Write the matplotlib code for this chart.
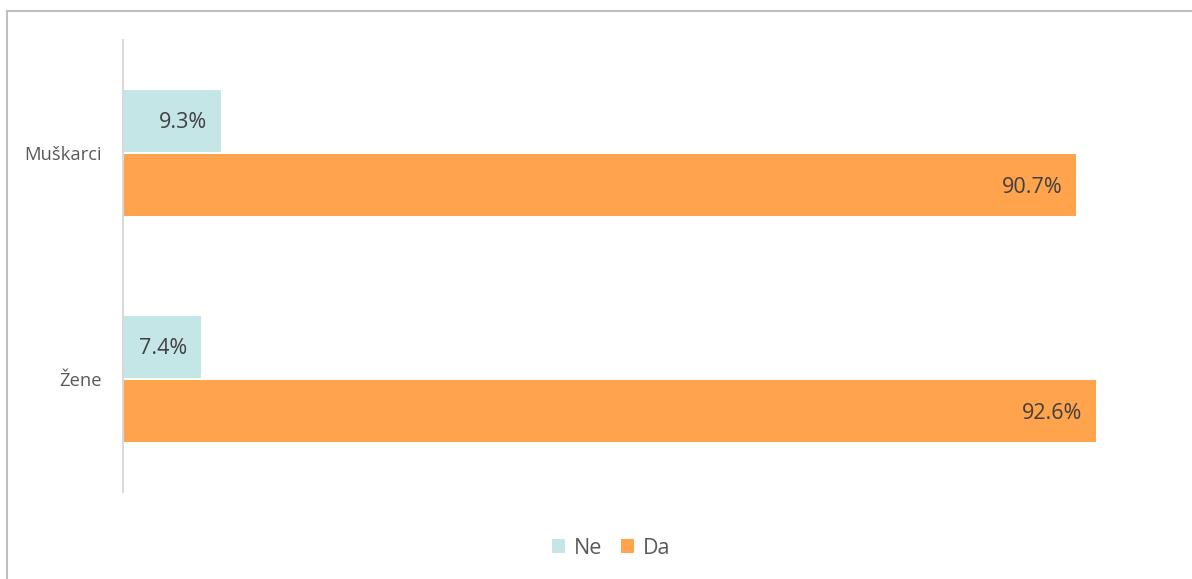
import matplotlib
matplotlib.use("Agg")
import matplotlib.pyplot as plt
from matplotlib.lines import Line2D
from matplotlib.patches import Patch
import numpy as np

plt.rcParams['font.family'] = ['Open Sans', 'DejaVu Sans']

categories = ["Muškarci", "Žene"]
series_names = ["Ne", "Da"]
ne_values = [9.3, 7.4]
da_values = [90.7, 92.6]
colors = {"Ne": "#c5e6e7", "Da": "#ffa34d"}

W, H = 1192, 579
fig = plt.figure(figsize=(W / 100, H / 100), dpi=100)
ax = fig.add_axes([123 / W, 1 - 492 / H, (1174 - 123) / W, (492 - 40) / H])

y = np.arange(len(categories))
bh = 0.274
gap = 0.006
b1 = ax.barh(y - bh / 2 - gap, ne_values, height=bh, color=colors["Ne"], label="Ne")
b2 = ax.barh(y + bh / 2 + gap, da_values, height=bh, color=colors["Da"], label="Da")

for bars, vals in ((b1, ne_values), (b2, da_values)):
    for bar, v in zip(bars, vals):
        ax.annotate(f"{v:.1f}%", xy=(bar.get_width(), bar.get_y() + bar.get_height() / 2),
                    xytext=(-14, -2), textcoords="offset pixels",
                    ha="right", va="center", fontsize=15.5, color="#404040")

ax.set_xlim(0, 100)
ax.set_ylim(1.5, -0.5)
ax.set_yticks(y)
ax.set_yticklabels(categories, fontsize=13.2, color="#595959")
ax.tick_params(axis="y", length=0, pad=15)
ax.set_xticks([])
for s in ("top", "right", "bottom"):
    ax.spines[s].set_visible(False)
ax.spines["left"].set_color("#d9d9d9")
ax.spines["left"].set_linewidth(1.5)

handles = [Patch(facecolor=colors["Ne"], label="Ne"), Patch(facecolor=colors["Da"], label="Da")]
fig.legend(handles=handles, loc="center", bbox_to_anchor=(611 / W, 1 - 548 / H), ncol=2,
           frameon=False, fontsize=15.5, labelcolor="#595959", handlelength=0.6, handleheight=0.6,
           handletextpad=0.4, columnspacing=0.9)

# outer border (top and left visible)
fig.add_artist(Line2D([7.5 / W, 7.5 / W], [0, 1 - 10.5 / H], transform=fig.transFigure,
                      color="#bfbfbf", lw=1.5))
fig.add_artist(Line2D([7.5 / W, 1], [1 - 10.5 / H, 1 - 10.5 / H], transform=fig.transFigure,
                      color="#bfbfbf", lw=1.5))

fig.savefig("out.png", dpi=100)
